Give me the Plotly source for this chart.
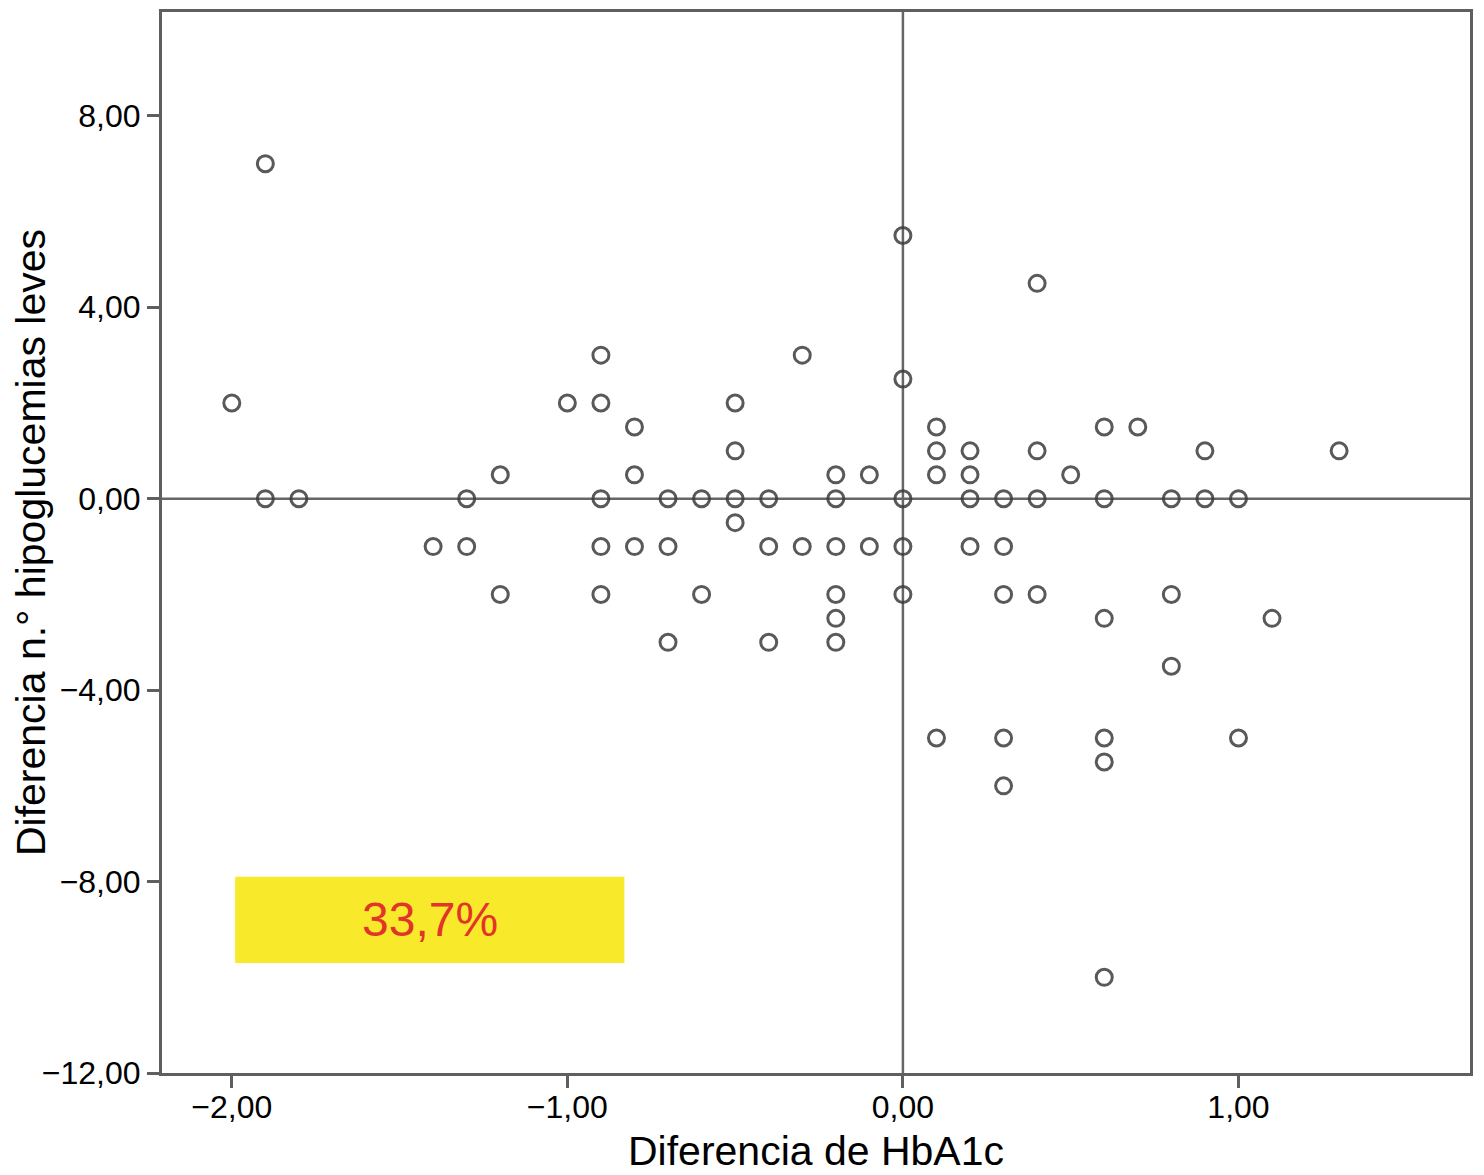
import plotly.graph_objects as go

# Diferencia de HbA1c (x) vs diferencia n.º hipoglucemias leves (y)
hba1c_diff = [
    -1.9, -2.0, -1.9, -1.8, -1.2, -1.3, -1.4, -1.3, -1.2,
    -1.0, -0.9, -0.9, -0.9, -0.9, -0.9, -0.8, -0.8, -0.8,
    -0.7, -0.7, -0.7, -0.6, -0.6, -0.5, -0.5, -0.5, -0.5,
    -0.4, -0.4, -0.4, -0.3, -0.3, -0.2, -0.2, -0.2, -0.2, -0.2, -0.2,
    -0.1, -0.1, 0.0, 0.0, 0.0, 0.0, 0.0,
    0.1, 0.1, 0.1, 0.1, 0.2, 0.2, 0.2, 0.2,
    0.3, 0.3, 0.3, 0.3, 0.3, 0.4, 0.4, 0.4, 0.4, 0.5,
    0.6, 0.6, 0.6, 0.6, 0.6, 0.6, 0.7, 0.8, 0.8, 0.8,
    0.9, 0.9, 1.0, 1.0, 1.1, 1.3,
]
hipo_diff = [
    7.0, 2.0, 0.0, 0.0, 0.5, 0.0, -1.0, -1.0, -2.0,
    2.0, 3.0, 2.0, 0.0, -1.0, -2.0, 1.5, 0.5, -1.0,
    0.0, -1.0, -3.0, 0.0, -2.0, 2.0, 1.0, 0.0, -0.5,
    0.0, -1.0, -3.0, 3.0, -1.0, 0.5, 0.0, -1.0, -2.0, -2.5, -3.0,
    0.5, -1.0, 5.5, 2.5, 0.0, -1.0, -2.0,
    1.5, 1.0, 0.5, -5.0, 1.0, 0.5, 0.0, -1.0,
    0.0, -1.0, -2.0, -5.0, -6.0, 4.5, 1.0, 0.0, -2.0, 0.5,
    1.5, 0.0, -2.5, -5.0, -5.5, -10.0, 1.5, 0.0, -2.0, -3.5,
    1.0, 0.0, 0.0, -5.0, -2.5, 1.0,
]

x_ticks = [-2, -1, 0, 1]
x_labels = ["\u22122,00", "\u22121,00", "0,00", "1,00"]
y_ticks = [-12, -8, -4, 0, 4, 8]
y_labels = ["\u221212,00", "\u22128,00", "\u22124,00", "0,00", "4,00", "8,00"]

box_text = "33,7%"

axis_col = "#5f5f5f"
font_main = "Liberation Sans, Arial, sans-serif"

fig = go.Figure()

fig.add_trace(go.Scatter(
    x=hba1c_diff, y=hipo_diff, mode="markers",
    marker=dict(symbol="circle-open", size=16, color="rgba(60,60,60,0.85)",
                line=dict(width=3)),
    showlegend=False, hoverinfo="x+y"))

# yellow label box
fig.add_shape(type="rect", x0=-1.99, x1=-0.83, y0=-9.7, y1=-7.9,
              xref="x", yref="y", fillcolor="#f8ea2b", line=dict(width=0),
              layer="below")
fig.add_annotation(x=(-1.99 - 0.83) / 2, y=-8.8, xref="x", yref="y",
                   text=box_text, showarrow=False,
                   font=dict(family=font_main, size=48, color="#e3342a"))

# reference lines at zero
fig.add_hline(y=0, line=dict(color="#666666", width=2.5), layer="below")
fig.add_vline(x=0, line=dict(color="#666666", width=2.5), layer="below")

# page body keeps its default 8px margin, so the figure is a bit smaller
fig.update_layout(
    width=1476, height=1167,
    margin=dict(l=152, r=14, t=1, b=102),
    paper_bgcolor="white", plot_bgcolor="white",
    font=dict(family=font_main, color="black"),
    xaxis=dict(
        range=[-2.208, 1.69], tickvals=x_ticks, ticktext=x_labels,
        showgrid=False, zeroline=False, showline=True, mirror=True,
        linecolor=axis_col, linewidth=3, ticks="outside", ticklen=12,
        tickwidth=3, tickcolor=axis_col, tickfont=dict(size=32),
        ticklabelstandoff=-8,
        title=dict(text="Diferencia de HbA1c", font=dict(size=41), standoff=12)),
    yaxis=dict(
        range=[-12.0, 10.17], tickvals=y_ticks, ticktext=y_labels,
        showgrid=False, zeroline=False, showline=True, mirror=True,
        linecolor=axis_col, linewidth=3, ticks="outside", ticklen=12,
        tickwidth=3, tickcolor=axis_col, tickfont=dict(size=32),
        title=dict(text="Diferencia n.\u00b0 hipoglucemias leves",
                   font=dict(size=41), standoff=4)),
)

fig.write_html("out.html")
